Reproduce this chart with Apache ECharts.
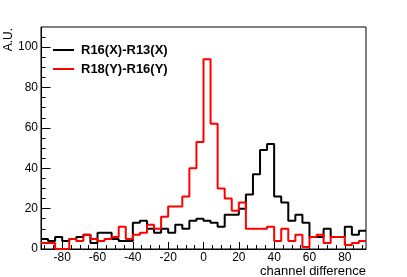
<!DOCTYPE html>
<html>
<head>
<meta charset="utf-8">
<script src="https://cdn.jsdelivr.net/npm/echarts@6/dist/echarts.min.js"></script>
<style>html,body{margin:0;padding:0;background:#fff}#c{width:407px;height:277px}</style>
</head>
<body>
<div id="c"></div>
<script>
// bin left edges (bin width 4), last edge closes the final bin
const binStarts = [-92,-88,-84,-80,-76,-72,-68,-64,-60,-56,-52,-48,-44,-40,-36,-32,-28,-24,-20,-16,-12,-8,-4,0,4,8,12,16,20,24,28,32,36,40,44,48,52,56,60,64,68,72,76,80,84,88];
const lastEdge = 92;
const blackName = 'R16(X)-R13(X)';
const redName = 'R18(Y)-R16(Y)';
const blackCounts = [5,4,6,4,5,6,7,3,8,8,5,4,4,13,14,10,8,10,8,12,10,14,15,14,13,11,17,17,20,27,37,49,52,26,23,14,17,13,6,6,10,6,6,11,7,9];
const redCounts = [3,3,0,0,5,4,7,5,4,5,6,11,5,7,8,12,10,16,21,21,26,40,53,94,62,30,25,19,23,10,10,10,11,4,10,4,7,1,6,7,3,6,6,2,3,4];
const xMajorTicks = [-80,-60,-40,-20,0,20,40,60,80];
const xMinorTicks = [-90,-85,-80,-75,-70,-65,-60,-55,-50,-45,-40,-35,-30,-25,-20,-15,-10,-5,0,5,10,15,20,25,30,35,40,45,50,55,60,65,70,75,80,85,90];
const yMajorTicks = [0,20,40,60,80,100];
const yMinorTicks = [0,5,10,15,20,25,30,35,40,45,50,55,60,65,70,75,80,85,90,95,100,105];
const xTitle = 'channel difference';
const yTitle = 'A.U.';

function histData(counts) {
  const d = binStarts.map((x, i) => [x, counts[i]]);
  d.push([lastEdge, counts[counts.length - 1]]);
  return d;
}

const FONT = 'Liberation Sans, Arial, Helvetica, sans-serif';
const chart = echarts.init(document.getElementById('c'), null, {renderer: 'canvas'});
chart.setOption({
  animation: false,
  backgroundColor: '#fff',
  grid: {left: 41, right: 41, top: 27, bottom: 28, show: true, borderColor: '#000', borderWidth: 1, containLabel: false},
  legend: {
    orient: 'vertical', left: 53, top: 43.5, itemGap: 6, padding: 0,
    icon: 'rect', itemWidth: 21, itemHeight: 2,
    textStyle: {fontFamily: FONT, fontSize: 13, fontWeight: 'bold', color: '#000', lineHeight: 13, padding: [0,0,0,2]},
    data: [blackName, redName]
  },
  xAxis: [{
    type: 'value', min: -92, max: 92, position: 'bottom',
    axisLine: {show: true, onZero: false, lineStyle: {color: '#000', width: 1}},
    axisTick: {show: true, inside: true, length: 7, customValues: xMajorTicks, lineStyle: {color: '#000'}},
    axisLabel: {show: true, customValues: xMajorTicks, fontFamily: FONT, fontSize: 12, color: '#000', margin: 3},
    splitLine: {show: false}
  }, {
    type: 'value', min: -92, max: 92, position: 'bottom', offset: 0,
    axisLine: {show: false, onZero: false},
    axisTick: {show: true, inside: true, length: 4, customValues: xMinorTicks, lineStyle: {color: '#000'}},
    axisLabel: {show: false},
    splitLine: {show: false}
  }],
  yAxis: [{
    type: 'value', min: 0, max: 110, position: 'left',
    axisLine: {show: true, onZero: false, lineStyle: {color: '#000', width: 1}},
    axisTick: {show: true, inside: true, length: 9.5, customValues: yMajorTicks, lineStyle: {color: '#000'}},
    axisLabel: {show: true, customValues: yMajorTicks, fontFamily: FONT, fontSize: 12, color: '#000', margin: 3},
    splitLine: {show: false}
  }, {
    type: 'value', min: 0, max: 110, position: 'left', offset: 0,
    axisLine: {show: false, onZero: false},
    axisTick: {show: true, inside: true, length: 4.5, customValues: yMinorTicks, lineStyle: {color: '#000'}},
    axisLabel: {show: false},
    splitLine: {show: false}
  }],
  series: [{
    name: blackName, type: 'line', step: 'end', showSymbol: false, symbol: 'none',
    xAxisIndex: 0, yAxisIndex: 0,
    color: '#000', lineStyle: {color: '#000', width: 2},
    data: histData(blackCounts)
  }, {
    name: redName, type: 'line', step: 'end', showSymbol: false, symbol: 'none',
    xAxisIndex: 0, yAxisIndex: 0,
    color: '#ff0000', lineStyle: {color: '#ff0000', width: 2},
    data: histData(redCounts)
  }],
  graphic: [{
    type: 'text', x: 8.5, y: 28, rotation: Math.PI / 2,
    style: {text: yTitle, font: '12px ' + FONT, fill: '#000', textAlign: 'right', textVerticalAlign: 'middle'}
  }, {
    type: 'text', x: 366, y: 271,
    style: {text: xTitle, font: '13px ' + FONT, fill: '#000', textAlign: 'right', textVerticalAlign: 'middle'}
  }]
});
</script>
</body>
</html>
